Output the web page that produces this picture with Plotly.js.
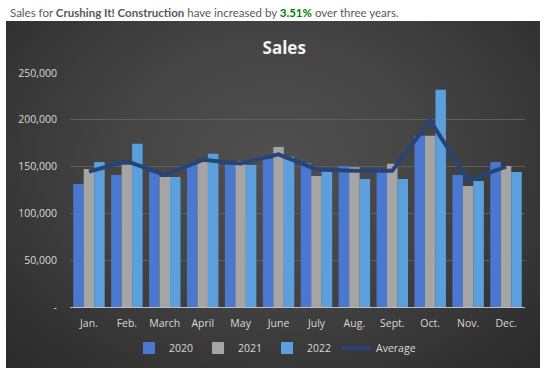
<!DOCTYPE html>
<html><head><meta charset="utf-8">
<script src="https://cdn.plot.ly/plotly-3.0.1.min.js"></script>
<style>
html,body{margin:0;padding:0;background:#fff;}
#wrap{position:relative;width:548px;height:378px;}
#bg{position:absolute;left:6px;top:21px;width:534px;height:347px;
background:radial-gradient(ellipse at 50% 40%, #505050 0%, #434343 45%, #2a2a2a 100%);}
#chart{position:absolute;left:0;top:0;width:548px;height:378px;}
</style></head>
<body><div id="wrap"><div id="bg"></div><div id="chart"></div></div>
<script>
const months = ["Jan.","Feb.","March","April","May","June","July","Aug.","Sept.","Oct.","Nov.","Dec."];
const sales2020 = [131500,141000,145000,152000,152000,158000,154000,150700,147000,183000,141000,155000];
const sales2021 = [147500,152000,139000,156000,156000,171000,140000,149300,153000,183000,129300,150700];
const sales2022 = [155000,174300,139000,163600,151800,160400,147000,136800,136800,232000,134700,144300];
const average = months.map((m,i)=>(sales2020[i]+sales2021[i]+sales2022[i])/3);
const yTickVals = [0,50000,100000,150000,200000,250000];
const yTickText = ["-","50,000","100,000","150,000","200,000","250,000"];

const tickFont = {family:"Open Sans, sans-serif", size:10.5, color:"#d9d9d9"};
const traces = [
 {type:"bar", name:"2020", x:months, y:sales2020, marker:{color:"#4a77cf"}},
 {type:"bar", name:"2021", x:months, y:sales2021, marker:{color:"#a5a5a5"}},
 {type:"bar", name:"2022", x:months, y:sales2022, marker:{color:"#5b9fdc"}},
 {type:"scatter", mode:"lines", name:"Average", x:months, y:average, line:{color:"#264478", width:4}}
];
const layout = {
 width:548, height:378,
 paper_bgcolor:"rgba(0,0,0,0)", plot_bgcolor:"rgba(0,0,0,0)",
 margin:{l:70, r:23, t:73, b:71.3},
 barmode:"group", bargap:0.17, bargroupgap:0,
 title:{text:"<b>Sales</b>", x:258/548, xanchor:"center", y:1-48/378, yanchor:"middle", xref:"paper",
   font:{family:"Open Sans, sans-serif", size:17, color:"#f2f2f2"}},
 xaxis:{tickfont:tickFont, showgrid:false, showline:true, linecolor:"#bfbfbf", linewidth:1,
   ticks:"", ticklabelstandoff:6, fixedrange:true},
 yaxis:{range:[0,250000], tickvals:yTickVals, ticktext:yTickText, tickfont:tickFont,
   gridcolor:"#5e5e5e", gridwidth:1, zeroline:false, showline:false, ticks:"", ticklabelstandoff:12},
 legend:{orientation:"h", x:275/548, xref:"container", xanchor:"center", y:1-348/378, yref:"container", yanchor:"middle",
   font:{family:"Open Sans, sans-serif", size:10.5, color:"#d9d9d9"}, bgcolor:"rgba(0,0,0,0)", traceorder:"normal"},
 annotations:[{xref:"paper", yref:"paper", x:-62/455, y:1+(73-13)/306.7*0, showarrow:false,
   xanchor:"left", yanchor:"middle",
   text:"Sales for <b>Crushing It! Construction</b> have increased by <b><span style='color:#008000'>3.51%</span></b> over three years.",
   font:{family:"Lato, sans-serif", size:11.5, color:"#595959"}}],
 showlegend:true
};
// place annotation at y=13px from top
layout.annotations[0].y = (378-71.3-13)/(378-73-71.3);
Plotly.newPlot("chart", traces, layout, {displayModeBar:false, staticPlot:true});
</script></body></html>
